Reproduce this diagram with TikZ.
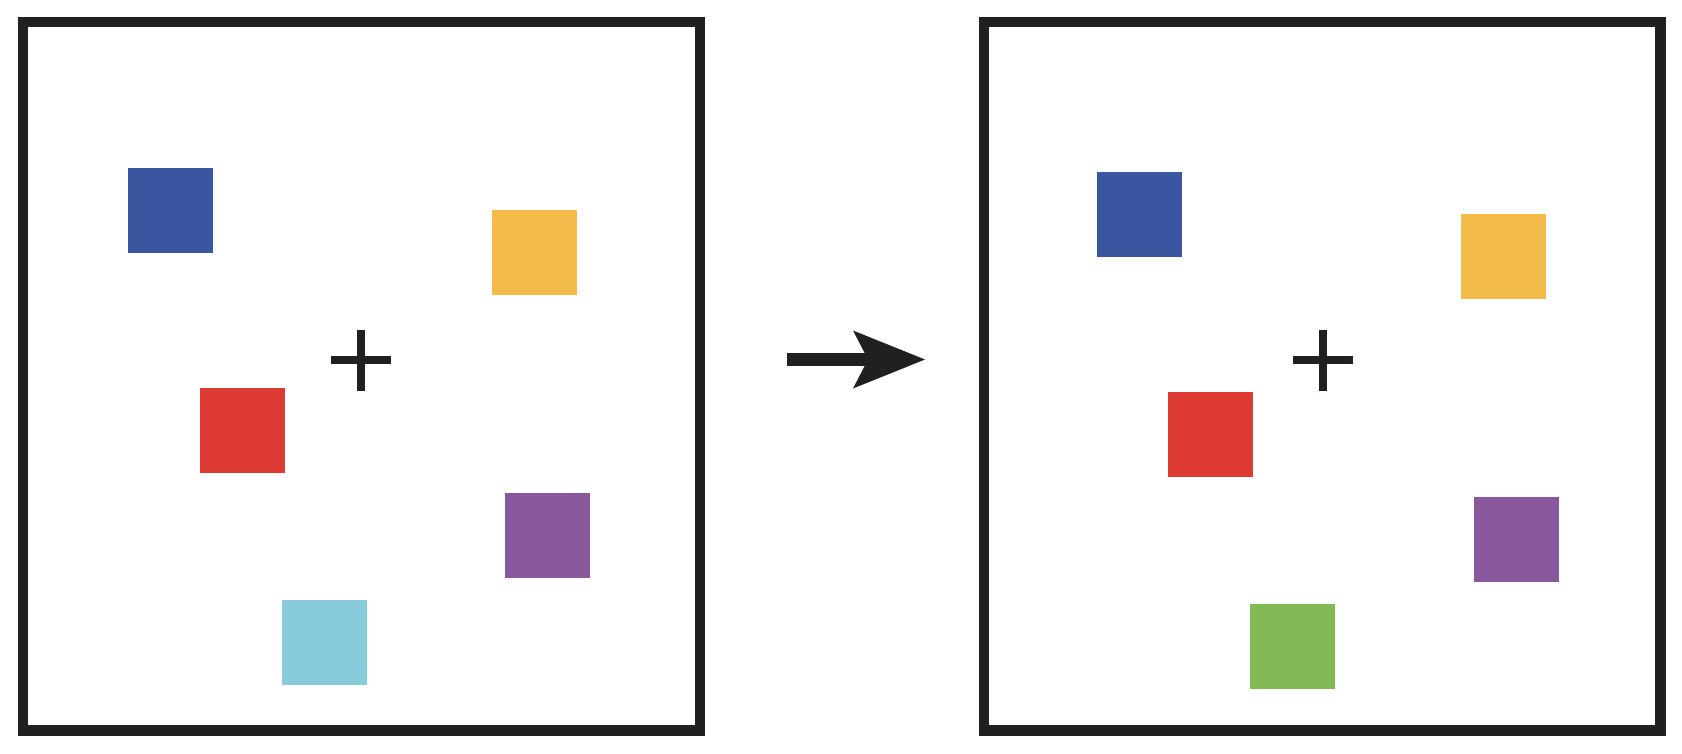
\documentclass[tikz,border=0pt]{standalone}
\usetikzlibrary{arrows.meta}
\definecolor{ink}{HTML}{211F20}
\definecolor{sqblue}{HTML}{3B56A0}
\definecolor{sqyellow}{HTML}{F3BC4A}
\definecolor{sqred}{HTML}{DC3A33}
\definecolor{sqpurple}{HTML}{88579C}
\definecolor{sqcyan}{HTML}{88CBDA}
\definecolor{sqgreen}{HTML}{82BA56}
\tikzset{
  frame/.style={draw=ink, line width=10.5pt},
  sq/.style={rectangle, minimum size=85pt, inner sep=0pt, outer sep=0pt},
  fixmark/.style={draw=ink, line width=8pt}
}
\begin{document}
\begin{tikzpicture}[x=1pt, y=-1pt]
                \useasboundingbox (0,0) rectangle (1682,754);
                % before
                \draw[frame] (23,22) rectangle (700,730.5);
                \node[sq, fill=sqblue]   (blueA)   at (170.5,210.5) {};
                \node[sq, fill=sqyellow] (yellowA) at (534.5,252.5) {};
                \node[sq, fill=sqred]    (redA)    at (242.5,430.5) {};
                \node[sq, fill=sqpurple] (purpleA) at (547.5,535.5) {};
                \node[sq, fill=sqcyan]   (cyanA)   at (324,642.5) {};
                \draw[fixmark] (331,360) -- (391,360) (361,330) -- (361,391);
                % arrow
                \coordinate (from) at (787,359.5);
                \coordinate (to)   at (925,359.5);
                \draw[ink, line width=12.4pt,
                      -{Stealth[length=72pt, width=58pt, inset=15pt, line width=0pt]}]
                      (from) -- (to);
                % after
                \draw[frame] (984,22) rectangle (1660.5,730.5);
                \node[sq, fill=sqblue]   (blueB)   at (1139,214.5) {};
                \node[sq, fill=sqyellow] (yellowB) at (1503,256.5) {};
                \node[sq, fill=sqred]    (redB)    at (1210.5,434.5) {};
                \node[sq, fill=sqpurple] (purpleB) at (1516.5,539.5) {};
                \node[sq, fill=sqgreen]  (greenB)  at (1292.5,646.5) {};
                \draw[fixmark] (1293,360) -- (1353,360) (1323,330) -- (1323,391);
\end{tikzpicture}
\end{document}
